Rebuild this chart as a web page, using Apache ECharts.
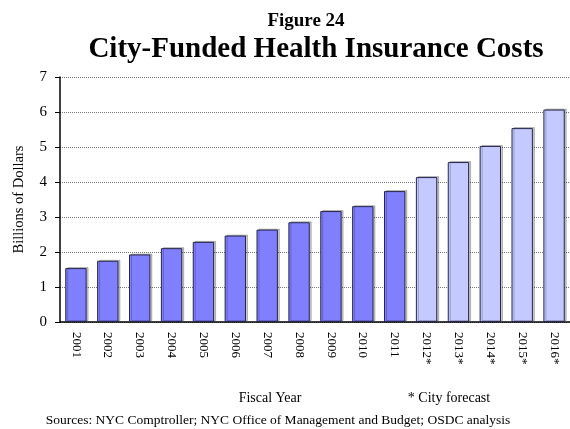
<!DOCTYPE html>
<html>
<head>
<meta charset="utf-8">
<title>City-Funded Health Insurance Costs</title>
<style>
  html, body { margin: 0; padding: 0; background: #fff; }
  #main { width: 570px; height: 429px; }
</style>
</head>
<body>
<div id="main"></div>
<script src="https://cdn.jsdelivr.net/npm/echarts@6/dist/echarts.min.js"></script>
<script>
// fiscal years, * = city forecast
var years = ['2001', '2002', '2003', '2004', '2005', '2006', '2007', '2008',
             '2009', '2010', '2011', '2012*', '2013*', '2014*', '2015*', '2016*'];
// billions of dollars
var costs = [1.54, 1.75, 1.93, 2.11, 2.29, 2.47, 2.64, 2.85,
             3.17, 3.31, 3.74, 4.14, 4.57, 5.03, 5.54, 6.07];
var yTicks = [0, 1, 2, 3, 4, 5, 6, 7];
var firstForecast = 11;   // index of 2012*

var serif = '"Liberation Serif", "Times New Roman", serif';

var barData = [];
for (var i = 0; i < costs.length; i++) {
    barData.push({
        value: costs[i],
        itemStyle: { color: i >= firstForecast ? '#c4caff' : '#8080ff' }
    });
}

var myChart = echarts.init(document.getElementById('main'));
var option = {
    animation: false,
    backgroundColor: '#fff',
    textStyle: { fontFamily: serif, color: '#000' },
    grid: { left: 60, top: 77, width: 512, height: 245 },
    xAxis: {
        type: 'category',
        data: years,
        axisLine: { lineStyle: { color: '#000', width: 1.5 } },
        axisTick: { show: false },
        axisLabel: { rotate: -90, margin: 10, fontSize: 13, fontFamily: serif, color: '#000' }
    },
    yAxis: {
        type: 'value',
        min: yTicks[0],
        max: yTicks[yTicks.length - 1],
        interval: 1,
        name: 'Billions of Dollars',
        nameLocation: 'middle',
        nameGap: 33,
        nameTextStyle: { fontSize: 14.5, fontFamily: serif, color: '#000' },
        axisLine: { show: true, lineStyle: { color: '#000', width: 1.5 } },
        axisTick: { show: true, length: 5, lineStyle: { color: '#000' } },
        axisLabel: { fontSize: 15, margin: 13, fontFamily: serif, color: '#000' },
        splitLine: { lineStyle: { color: '#777', type: 'dotted', width: 1 } }
    },
    series: [{
        type: 'bar',
        data: barData,
        barCategoryGap: '33%',
        itemStyle: {
            borderColor: '#26264d',
            borderWidth: 1,
            shadowColor: 'rgba(0,0,0,0.22)',
            shadowBlur: 0,
            shadowOffsetX: 2,
            shadowOffsetY: -1
        }
    }],
    graphic: [
        { type: 'text', x: 306, y: 21, style: { text: 'Figure 24', font: 'bold 19px ' + serif, fill: '#000', textAlign: 'center', textVerticalAlign: 'middle' } },
        { type: 'text', x: 316, y: 50, style: { text: 'City-Funded Health Insurance Costs', font: 'bold 29px ' + serif, fill: '#000', textAlign: 'center', textVerticalAlign: 'middle' } },
        { type: 'text', x: 270, y: 398, style: { text: 'Fiscal Year', font: '14px ' + serif, fill: '#000', textAlign: 'center', textVerticalAlign: 'middle' } },
        { type: 'text', x: 449, y: 398, style: { text: '* City forecast', font: '14px ' + serif, fill: '#000', textAlign: 'center', textVerticalAlign: 'middle' } },
        { type: 'text', x: 278, y: 420, style: { text: 'Sources: NYC Comptroller; NYC Office of Management and Budget; OSDC analysis', font: '13.5px ' + serif, fill: '#000', textAlign: 'center', textVerticalAlign: 'middle' } }
    ]
};
myChart.setOption(option);
</script>
</body>
</html>
